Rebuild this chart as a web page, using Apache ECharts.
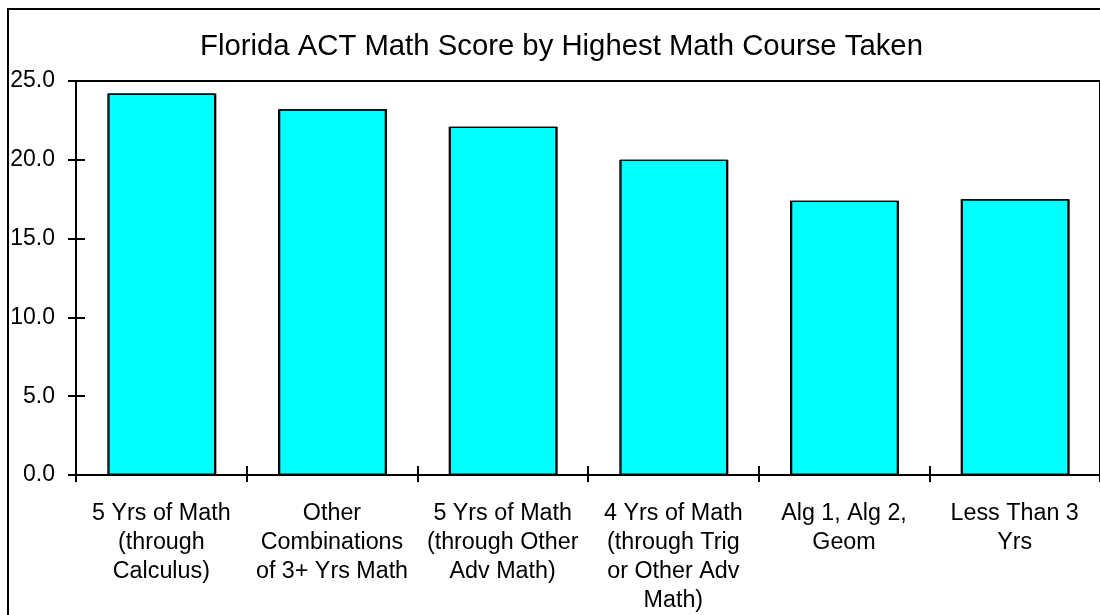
<!DOCTYPE html>
<html>
<head>
<meta charset="utf-8">
<script src="https://cdn.jsdelivr.net/npm/echarts@6/dist/echarts.min.js"></script>
<style>html,body{margin:0;padding:0;background:#fff}#c{width:1100px;height:615px}</style>
</head>
<body>
<div id="c"></div>
<script>
const titleText = 'Florida ACT Math Score by Highest Math Course Taken';
const categories = [
  '5 Yrs of Math\n(through\nCalculus)',
  'Other\nCombinations\nof 3+ Yrs Math',
  '5 Yrs of Math\n(through Other\nAdv Math)',
  '4 Yrs of Math\n(through Trig\nor Other Adv\nMath)',
  'Alg 1, Alg 2,\nGeom',
  'Less Than 3\nYrs'
];
const scores = [24.2, 23.2, 22.1, 20.0, 17.4, 17.5];
const yMin = 0, yMax = 25, yStep = 5;

const FONT = "'Liberation Sans', Arial, sans-serif";
const chart = echarts.init(document.getElementById('c'), null, {renderer: 'canvas'});
chart.setOption({
  animation: false,
  backgroundColor: '#fff',
  title: {
    text: titleText,
    left: 200, top: 32,
    padding: 0,
    textStyle: {fontFamily: FONT, fontSize: 29.3, fontWeight: 'normal', color: '#000'}
  },
  graphic: [{
    type: 'rect', silent: true, z: -1,
    shape: {x: 8, y: 9, width: 1200, height: 700},
    style: {fill: 'none', stroke: '#000', lineWidth: 2}
  }],
  grid: {left: 76, top: 81, width: 1032, height: 395.3, show: true, borderColor: '#000', borderWidth: 2, backgroundColor: 'transparent'},
  xAxis: [{
    type: 'category', data: categories, position: 'bottom', boundaryGap: true,
    axisLine: {lineStyle: {color: '#000', width: 2}},
    axisTick: {show: true, interval: 0, length: 7, inside: false, lineStyle: {color: '#000', width: 2}},
    axisLabel: {interval: 0, margin: 24, color: '#000', fontFamily: FONT, fontSize: 23.3, lineHeight: 29, align: 'center'},
    splitLine: {show: false}
  }, {
    type: 'category', data: categories, position: 'bottom', boundaryGap: true,
    axisLine: {show: false},
    axisTick: {show: true, interval: 0, length: 9, inside: true, lineStyle: {color: '#000', width: 2}},
    axisLabel: {show: false},
    splitLine: {show: false}
  }],
  yAxis: [{
    type: 'value', min: yMin, max: yMax, interval: yStep, position: 'left',
    axisLine: {show: true, lineStyle: {color: '#000', width: 2}},
    axisTick: {show: true, length: 8, inside: false, lineStyle: {color: '#000', width: 2}},
    axisLabel: {margin: 21, color: '#000', fontFamily: FONT, fontSize: 23, formatter: v => v.toFixed(1)},
    splitLine: {show: false}
  }, {
    type: 'value', min: yMin, max: yMax, interval: yStep, position: 'left', offset: 0,
    axisLine: {show: false},
    axisTick: {show: true, length: 9, inside: true, lineStyle: {color: '#000', width: 2}},
    axisLabel: {show: false},
    splitLine: {show: false}
  }],
  series: [{
    type: 'bar', data: scores, xAxisIndex: 0, yAxisIndex: 0,
    barWidth: 108,
    itemStyle: {color: '#00FFFF', borderColor: '#000', borderWidth: 1.3, shadowColor: '#000', shadowOffsetX: 1, shadowOffsetY: 0, shadowBlur: 0}
  }]
});
</script>
</body>
</html>
